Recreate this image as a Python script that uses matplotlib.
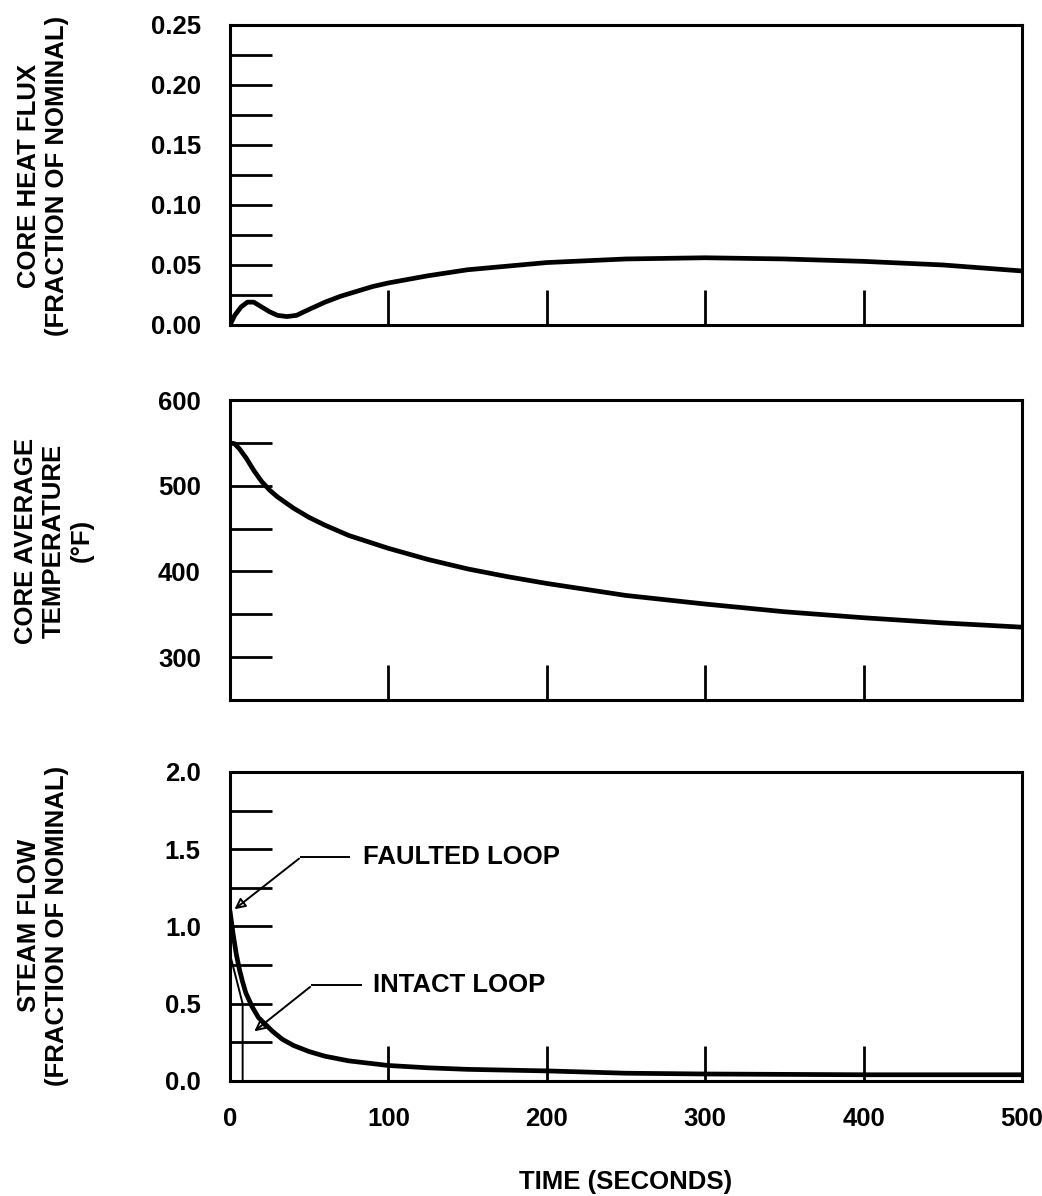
import numpy as np
import matplotlib
matplotlib.use("Agg")
import matplotlib.pyplot as plt

plt.rcParams['font.family'] = ['Liberation Sans', 'DejaVu Sans']
plt.rcParams['font.weight'] = 'bold'
plt.rcParams['axes.labelweight'] = 'bold'

# core heat flux (fraction of nominal)
t_flux = [0, 3, 7, 11, 15, 20, 25, 30, 36, 42, 50, 60, 70, 80, 90, 100, 125, 150,
          175, 200, 250, 300, 350, 400, 450, 500]
flux = [0.0, 0.008, 0.015, 0.019, 0.019, 0.015, 0.011, 0.008, 0.007, 0.008, 0.013,
        0.019, 0.024, 0.028, 0.032, 0.035, 0.041, 0.046, 0.049, 0.052, 0.055, 0.056,
        0.055, 0.053, 0.050, 0.045]

# core average temperature (F)
t_temp = [0, 3, 6, 10, 15, 20, 25, 30, 40, 50, 60, 75, 100, 125, 150, 175, 200,
          250, 300, 350, 400, 450, 500]
temp = [550, 549, 543, 533, 518, 505, 495, 487, 474, 463, 454, 442, 427, 414, 403,
        394, 386, 372, 362, 353, 346, 340, 335]

# steam flow (fraction of nominal)
t_fault = [0, 2, 4, 6, 8, 10, 14, 18, 22, 27, 33, 40, 50, 60, 75, 100, 125, 150,
           200, 250, 300, 400, 500]
fault = [1.1, 0.95, 0.82, 0.72, 0.64, 0.57, 0.48, 0.41, 0.37, 0.32, 0.27, 0.23, 0.19,
         0.16, 0.13, 0.10, 0.085, 0.075, 0.065, 0.05, 0.045, 0.04, 0.04]
t_intact = [0, 3, 6, 8, 8, 250, 500]
intact = [0.82, 0.70, 0.58, 0.50, 0.0, 0.0, 0.0]

x_ticks = [0, 100, 200, 300, 400, 500]

fs = 18.5

fig = plt.figure(figsize=(10.42, 11.96), dpi=100)
ax1 = fig.add_axes([0.2207, 0.7283, 0.7601, 0.2508])
ax2 = fig.add_axes([0.2207, 0.4147, 0.7601, 0.2508])
ax3 = fig.add_axes([0.2207, 0.0962, 0.7601, 0.2584])

lw = 3.4
ax1.plot(t_flux, flux, color='black', lw=lw, solid_capstyle='round')
ax2.plot(t_temp, temp, color='black', lw=lw, solid_capstyle='round')
ax3.plot(t_fault, fault, color='black', lw=lw, solid_capstyle='round')
ax3.plot(t_intact, intact, color='black', lw=1.4)

ax1.set_ylim(0, 0.25)
ax1.set_yticks(np.arange(0, 0.2501, 0.05))
ax1.set_yticklabels(['0.00', '0.05', '0.10', '0.15', '0.20', '0.25'])
ax1.set_yticks(np.arange(0.025, 0.25, 0.05), minor=True)

ax2.set_ylim(250, 600)
ax2.set_yticks([300, 400, 500, 600])
ax2.set_yticks([350, 450, 550], minor=True)

ax3.set_ylim(0, 2.0)
ax3.set_yticks([0.0, 0.5, 1.0, 1.5, 2.0])
ax3.set_yticklabels(['0.0', '0.5', '1.0', '1.5', '2.0'])
ax3.set_yticks([0.25, 0.75, 1.25, 1.75], minor=True)

for ax in (ax1, ax2, ax3):
    ax.set_xlim(0, 500)
    ax.set_xticks(x_ticks)
    for s in ax.spines.values():
        s.set_linewidth(2.2)
    ax.tick_params(axis='y', which='both', direction='in', length=30, width=2,
                   pad=21, labelsize=fs)
    ax.tick_params(axis='x', which='both', direction='in', length=25, width=2,
                   pad=19, labelsize=fs)

ax1.tick_params(axis='x', labelbottom=False)
ax2.tick_params(axis='x', labelbottom=False)

ax3.set_xlabel('TIME (SECONDS)', fontsize=fs, labelpad=28)

lab = dict(fontsize=fs, rotation=90, ha='center', va='center', linespacing=1.2)
fig.text(0.041, 0.853, 'CORE HEAT FLUX\n(FRACTION OF NOMINAL)', **lab)
fig.text(0.052, 0.548, 'CORE AVERAGE\nTEMPERATURE\n(\u00b0F)', **lab)
fig.text(0.041, 0.226, 'STEAM FLOW\n(FRACTION OF NOMINAL)', **lab)

# loop callouts
arr = dict(arrowstyle='-|>', color='black', lw=1.4, mutation_scale=16, fill=False)
ax3.annotate('', xy=(1.5, 1.1), xytext=(45, 1.45), arrowprops=arr)
ax3.plot([45, 75], [1.45, 1.45], color='black', lw=1.4)
ax3.text(84, 1.45, 'FAULTED LOOP', fontsize=fs, va='center', ha='left')

ax3.annotate('', xy=(14, 0.31), xytext=(52, 0.62), arrowprops=arr)
ax3.plot([52, 83], [0.62, 0.62], color='black', lw=1.4)
ax3.text(90, 0.62, 'INTACT LOOP', fontsize=fs, va='center', ha='left')

fig.savefig('out.png', dpi=100)
